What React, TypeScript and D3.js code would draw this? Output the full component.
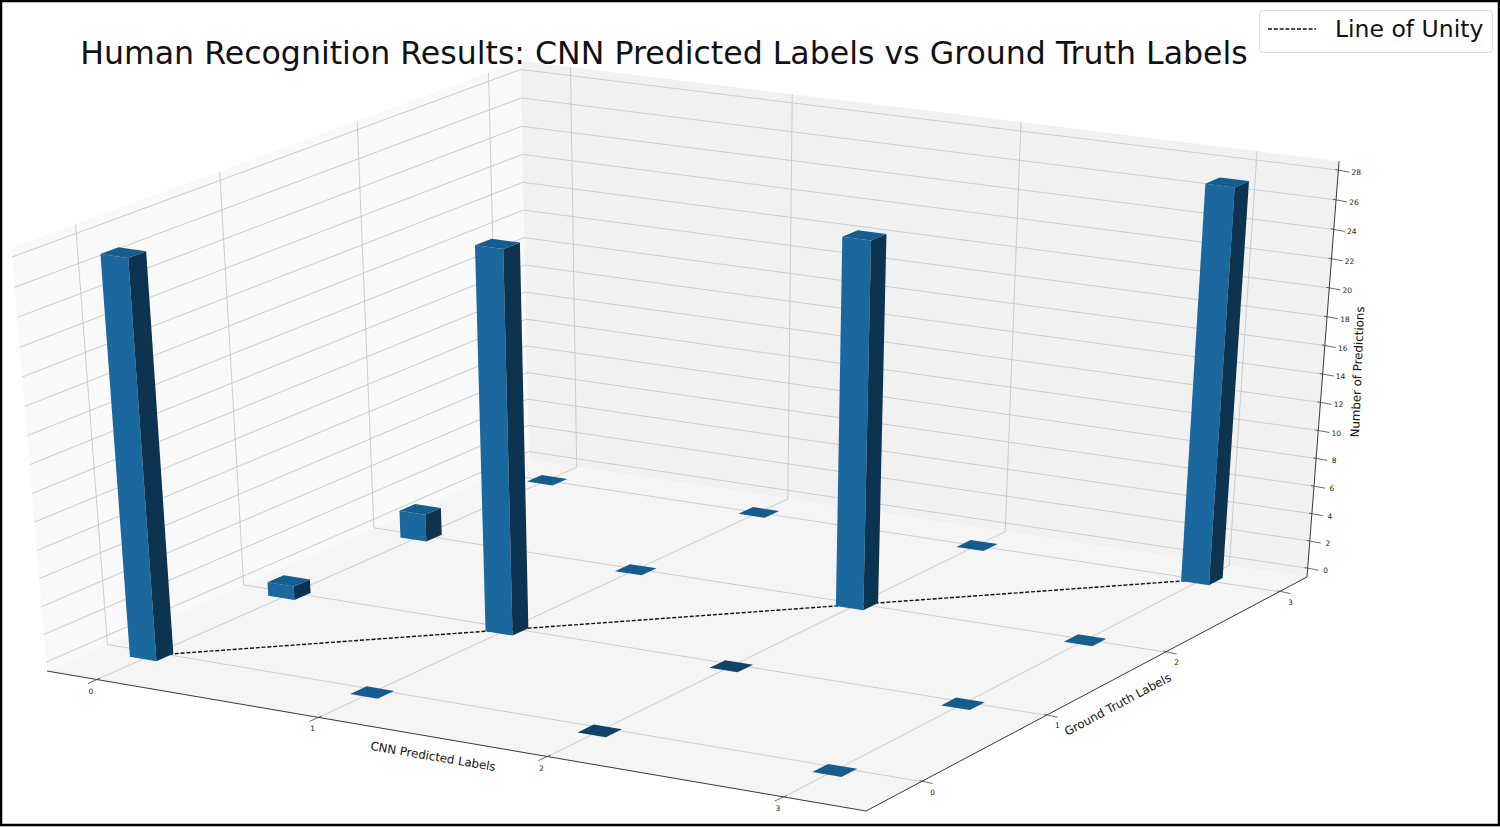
import React from 'react';
import * as d3 from 'd3';

// bar heights, one row per CNN predicted label, one column per ground truth label
const predictedLabels = [0, 1, 2, 3];
const truthLabels = [0, 1, 2, 3];
const countsPred0 = [28, 1, 2, 0];
const countsPred1 = [0, 27, 0, 0];
const countsPred2 = [0, 0, 26, 0];
const countsPred3 = [0, 0, 0, 28];
const counts = [countsPred0, countsPred1, countsPred2, countsPred3];
const zTicks = [0, 2, 4, 6, 8, 10, 12, 14, 16, 18, 20, 22, 24, 26, 28];

const titleText = 'Human Recognition Results: CNN Predicted Labels vs Ground Truth Labels';
const FONT = '"DejaVu Sans", sans-serif';

const xDomain = [-0.23, 3.34];
const yDomain = [-0.43, 3.25];
const zDomain = [-0.65, 28.6];
const barWidth = 0.122;
// bars sit slightly off the grid crossings, mostly towards the front
const barCenterY = d3.scaleLinear().domain([0, 3]).range([-0.04, 3.005]);

const toU = d3.scaleLinear().domain(xDomain).range([0, 1]);
const toV = d3.scaleLinear().domain(yDomain).range([0, 1]);
const toW = d3.scaleLinear().domain(zDomain).range([0, 1]);

// screen position of the plot box corners, the projection is fitted to them
const floorQuad = [[47, 671], [866, 811], [1307, 577], [529, 460]];
const topCorners = [
  { u: 0, v: 0, sx: 12, sy: 250 },
  { u: 1, v: 1, sx: 1339, sy: 160 },
  { u: 0, v: 1, sx: 520, sy: 60 },
];

function squareToQuad(q: number[][]) {
  const [[x0, y0], [x1, y1], [x2, y2], [x3, y3]] = q;
  const dx1 = x1 - x2, dx2 = x3 - x2, sx = x0 - x1 + x2 - x3;
  const dy1 = y1 - y2, dy2 = y3 - y2, sy = y0 - y1 + y2 - y3;
  const den = dx1 * dy2 - dx2 * dy1;
  const g = (sx * dy2 - dx2 * sy) / den;
  const h = (dx1 * sy - sx * dy1) / den;
  return [
    [x1 - x0 + g * x1, x3 - x0 + h * x3, x0],
    [y1 - y0 + g * y1, y3 - y0 + h * y3, y0],
    [g, h, 1],
  ];
}

const H = squareToQuad(floorQuad);
const floorHom = (u: number, v: number) => H.map((r) => r[0] * u + r[1] * v + r[2]);

function solve3(A: number[][], b: number[]) {
  const m = A.map((r, i) => [...r, b[i]]);
  for (let i = 0; i < 3; i++) {
    let p = i;
    for (let k = i + 1; k < 3; k++) if (Math.abs(m[k][i]) > Math.abs(m[p][i])) p = k;
    [m[i], m[p]] = [m[p], m[i]];
    for (let k = 0; k < 3; k++) {
      if (k === i) continue;
      const f = m[k][i] / m[i][i];
      for (let c = i; c < 4; c++) m[k][c] -= f * m[i][c];
    }
  }
  return m.map((r, i) => r[3] / r[i]);
}

// vertical column of the projection matrix, least squares on the top corners
function fitVertical() {
  const rows: number[][] = [];
  const rhs: number[] = [];
  topCorners.forEach(({ u, v, sx, sy }) => {
    const [X, Y, W] = floorHom(u, v);
    rows.push([1, 0, -sx]);
    rhs.push(sx * W - X);
    rows.push([0, 1, -sy]);
    rhs.push(sy * W - Y);
  });
  const AtA = [0, 1, 2].map((i) => [0, 1, 2].map((j) => d3.sum(rows, (r) => r[i] * r[j])));
  const Atb = [0, 1, 2].map((i) => d3.sum(rows, (r, k) => r[i] * rhs[k]));
  return solve3(AtA, Atb);
}
const P3 = fitVertical();

function project(x: number, y: number, z: number): [number, number] {
  const [X, Y, W] = floorHom(toU(x), toV(y));
  const t = toW(z);
  const w = W + t * P3[2];
  return [(X + t * P3[0]) / w, (Y + t * P3[1]) / w];
}

const poly = d3.line<[number, number]>().curve(d3.curveLinearClosed);
const seg = d3.line<[number, number]>();

const [xMin, xMax] = xDomain;
const [yMin, yMax] = yDomain;
const [zMin, zMax] = zDomain;

const FRONT = '#1b689e';
const SIDE = '#0c3450';
const TOP = '#165c8c';
const GRID = '#c6c6c6';

// the bars stand on the floor of the box, which lies a bit under the 0 tick
function Bar({ xi, yi, value }: { xi: number; yi: number; value: number }) {
  const x0 = xi - barWidth / 2, x1 = xi + barWidth / 2;
  const y0 = barCenterY(yi) - barWidth / 2, y1 = barCenterY(yi) + barWidth / 2;
  const zTop = zMin + value;
  const topColor = value === 0 && xi === 2 && yi < 2 ? '#0f4468' : TOP;
  return (
    <g>
      {value > 0 && (
        <>
          <path d={poly([project(x0, y0, zMin), project(x1, y0, zMin), project(x1, y0, zTop), project(x0, y0, zTop)])!} fill={FRONT} />
          <path d={poly([project(x1, y0, zMin), project(x1, y1, zMin), project(x1, y1, zTop), project(x1, y0, zTop)])!} fill={SIDE} />
        </>
      )}
      <path d={poly([project(x0, y0, zTop), project(x1, y0, zTop), project(x1, y1, zTop), project(x0, y1, zTop)])!} fill={topColor} />
    </g>
  );
}

export default function App() {
  const bars = predictedLabels
    .flatMap((xi) => truthLabels.map((yi) => ({ xi, yi, value: counts[xi][yi] })))
    .sort((a, b) => b.yi - b.xi - (a.yi - a.xi));

  const gridLine = (a: [number, number], b: [number, number], key: string) => (
    <path key={key} d={seg([a, b])!} stroke={GRID} strokeWidth={0.9} fill="none" />
  );

  return (
    <svg width={1500} height={827} style={{ position: 'absolute', left: 0, top: 0, background: '#fff' }} fontFamily={FONT}>
      {/* panes */}
      <path d={poly([project(xMin, yMin, zMin), project(xMin, yMin, zMax), project(xMin, yMax, zMax), project(xMin, yMax, zMin)])!} fill="#f9f9f9" />
      <path d={poly([project(xMin, yMax, zMin), project(xMin, yMax, zMax), project(xMax, yMax, zMax), project(xMax, yMax, zMin)])!} fill="#f1f1f1" />
      <path d={poly([project(xMin, yMin, zMin), project(xMax, yMin, zMin), project(xMax, yMax, zMin), project(xMin, yMax, zMin)])!} fill="#f5f5f5" />

      {/* grid */}
      {predictedLabels.map((k) => gridLine(project(k, yMin, zMin), project(k, yMax, zMin), `fx${k}`))}
      {truthLabels.map((k) => gridLine(project(xMin, k, zMin), project(xMax, k, zMin), `fy${k}`))}
      {predictedLabels.map((k) => gridLine(project(k, yMax, zMin), project(k, yMax, zMax), `bx${k}`))}
      {truthLabels.map((k) => gridLine(project(xMin, k, zMin), project(xMin, k, zMax), `ly${k}`))}
      {zTicks.map((k) => gridLine(project(xMin, yMin, k), project(xMin, yMax, k), `lz${k}`))}
      {zTicks.map((k) => gridLine(project(xMin, yMax, k), project(xMax, yMax, k), `bz${k}`))}

      {/* line of unity */}
      <path d={seg([project(0, barCenterY(0), zMin), project(3, barCenterY(3), zMin)])!} stroke="#111" strokeWidth={1.4} strokeDasharray="4 1.8" fill="none" />

      {bars.map((b) => <Bar key={`${b.xi}-${b.yi}`} {...b} />)}

      {/* axes */}
      <path d={seg([project(xMin, yMin, zMin), project(xMax, yMin, zMin)])!} stroke="#222" strokeWidth={0.9} />
      <path d={seg([project(xMax, yMin, zMin), project(xMax, yMax, zMin)])!} stroke="#222" strokeWidth={0.9} />
      <path d={seg([project(xMax, yMax, zMin), project(xMax, yMax, zMax)])!} stroke="#222" strokeWidth={0.9} />

      {predictedLabels.map((k) => {
        const [px, py] = project(k, yMin, zMin);
        return (
          <g key={`xt${k}`}>
            <line x1={px + 3} y1={py - 1.5} x2={px - 9} y2={py + 4} stroke="#444" strokeWidth={0.8} />
            <text x={px - 6} y={py + 12} fontSize={7.5} textAnchor="middle" dominantBaseline="middle" fill="#222">{k}</text>
          </g>
        );
      })}
      {truthLabels.map((k) => {
        const [px, py] = project(xMax, k, zMin);
        return (
          <g key={`yt${k}`}>
            <line x1={px - 2} y1={py - 1} x2={px + 11} y2={py + 2} stroke="#444" strokeWidth={0.8} />
            <text x={px + 11} y={py + 11} fontSize={7.5} textAnchor="middle" dominantBaseline="middle" fill="#222">{k}</text>
          </g>
        );
      })}
      {zTicks.map((k) => {
        const [px, py] = project(xMax, yMax, k);
        return (
          <g key={`zt${k}`}>
            <line x1={px - 3} y1={py - 0.6} x2={px + 11} y2={py + 2} stroke="#444" strokeWidth={0.8} />
            <text x={px + 18} y={py + 3} fontSize={7.5} textAnchor="middle" dominantBaseline="middle" fill="#222">{k}</text>
          </g>
        );
      })}

      <text transform="translate(433,757) rotate(9.7)" fontSize={11.8} textAnchor="middle" dominantBaseline="middle" fill="#111">CNN Predicted Labels</text>
      <text transform="translate(1118,705) rotate(-28)" fontSize={11.8} textAnchor="middle" dominantBaseline="middle" fill="#111">Ground Truth Labels</text>
      <text transform="translate(1358,372) rotate(-87.7)" fontSize={11.8} textAnchor="middle" dominantBaseline="middle" fill="#111">Number of Predictions</text>

      <text x={664} y={54.5} fontSize={31.6} textAnchor="middle" dominantBaseline="middle" fill="#111">{titleText}</text>

      {/* legend */}
      <rect x={1259.5} y={10.5} width={233} height={42} rx={4} fill="#fff" stroke="#dedede" />
      <line x1={1268} x2={1316} y1={29} y2={29} stroke="#111" strokeWidth={1.3} strokeDasharray="4 1.8" />
      <text x={1335} y={30.5} fontSize={23.5} dominantBaseline="middle" fill="#111">Line of Unity</text>

      {/* image frame */}
      <rect x={1} y={1} width={1498} height={824} fill="none" stroke="#000" strokeWidth={2.5} />
    </svg>
  );
}
